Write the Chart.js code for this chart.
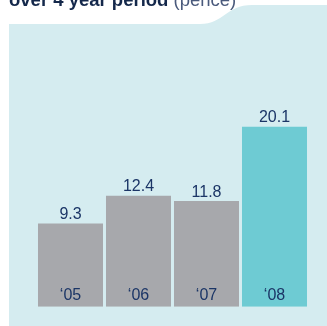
<!DOCTYPE html>
<html>
<head>
<meta charset="utf-8">
<script src="https://cdn.jsdelivr.net/npm/chart.js@4/dist/chart.umd.min.js"></script>
<style>
    html, body { margin: 0; padding: 0; background: #ffffff; }
    #wrap { position: relative; width: 327px; height: 326px; overflow: hidden; }
    #chart-dividend { position: absolute; left: 0; top: 0; }
    .chart-title {
        position: absolute; left: 9px; top: -9.5px; white-space: nowrap;
        font-family: "Liberation Sans", Arial, sans-serif; font-size: 18.5px; line-height: 18.5px;
        color: #14284b; font-weight: bold;
    }
    .chart-title span { font-weight: normal; color: #4a5a7c; }
</style>
</head>
<body>
<div id="wrap">
    <canvas id="chart-dividend" width="327" height="326"></canvas>
    <div class="chart-title">over 4 year period <span>(pence)</span></div>
</div>
<script>
    'use strict';

    const years = ['\u201805', '\u201806', '\u201807', '\u201808'];
    const dividends = [9.3, 12.4, 11.8, 20.1];
    const barColours = ['#a7a8ac', '#a7a8ac', '#a7a8ac', '#6ecbd3'];

    const textColour = '#1b3566';
    const labelFont = '16px "Liberation Sans", Arial, sans-serif';

    // light blue panel with the wave on the top edge
    const panelPlugin = {
        id: 'panel',
        beforeDraw: function (chart) {
            const ctx = chart.ctx;
            ctx.save();
            ctx.fillStyle = '#d5ecf0';
            ctx.beginPath();
            ctx.moveTo(9, 326);
            ctx.lineTo(9, 24);
            ctx.lineTo(200, 24);
            ctx.bezierCurveTo(224, 24, 226, 5, 252, 5);
            ctx.lineTo(327, 5);
            ctx.lineTo(327, 326);
            ctx.closePath();
            ctx.fill();
            ctx.restore();
        }
    };

    // value above each bar, year inside the foot of each bar
    const barLabelPlugin = {
        id: 'barLabels',
        afterDatasetsDraw: function (chart) {
            const ctx = chart.ctx;
            const meta = chart.getDatasetMeta(0);
            ctx.save();
            ctx.font = labelFont;
            ctx.fillStyle = textColour;
            ctx.textAlign = 'center';
            ctx.textBaseline = 'alphabetic';
            meta.data.forEach(function (bar, i) {
                ctx.fillText(dividends[i].toFixed(1), bar.x, bar.y - 4.5);
                ctx.fillText(years[i], bar.x, bar.base - 6.5);
            });
            ctx.restore();
        }
    };

    const config = {
        type: 'bar',
        data: {
            labels: years,
            datasets: [{
                data: dividends,
                backgroundColor: barColours,
                borderWidth: 0,
                barPercentage: 0.956,
                categoryPercentage: 1.0,
            }]
        },
        options: {
            responsive: false,
            animation: false,
            layout: {
                padding: { left: 36.5, right: 18.5, top: 83, bottom: 19.3 }
            },
            scales: {
                x: { display: false },
                y: { display: false, min: 0, max: 25 }
            },
            plugins: {
                legend: { display: false },
                tooltip: { enabled: false },
            }
        },
        plugins: [panelPlugin, barLabelPlugin]
    };

    new Chart(document.getElementById('chart-dividend'), config);
</script>
</body>
</html>
